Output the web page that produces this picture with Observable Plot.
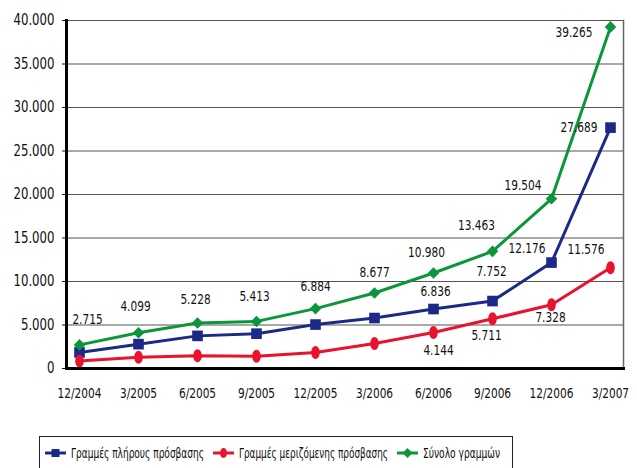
<!DOCTYPE html>
<html><head><meta charset="utf-8">
<script src="https://cdn.jsdelivr.net/npm/d3@7"></script>
<script src="https://cdn.jsdelivr.net/npm/@observablehq/plot@0.6"></script>
<style>
body{margin:0;background:#fff;font-family:"DejaVu Sans Condensed","Liberation Sans",sans-serif;}
#wrap{position:relative;width:637px;height:468px;overflow:hidden;}
#legend{position:absolute;left:39px;top:436px;width:474px;height:40px;border:1px solid #222;box-sizing:border-box;font-size:14px;color:#111;}
.item{position:absolute;top:8px;display:flex;align-items:center;white-space:nowrap;}
.item span{display:inline-block;transform-origin:left center;margin-left:5px;}
</style></head>
<body><div id="wrap"><div id="chart"></div><div id="legend"></div></div>
<script>
const periods = ["12/2004","3/2005","6/2005","9/2005","12/2005","3/2006","6/2006","9/2006","12/2006","3/2007"];
const fullAccess = [1850, 2800, 3750, 4000, 5050, 5800, 6836, 7752, 12176, 27689];
const partialAccess = [865, 1299, 1478, 1413, 1834, 2877, 4144, 5711, 7328, 11576];
const totalLines = [2715, 4099, 5228, 5413, 6884, 8677, 10980, 13463, 19504, 39265];
const seriesNames = ["Γραμμές πλήρους πρόσβασης", "Γραμμές μεριζόμενης πρόσβασης", "Σύνολο γραμμών"];
const yTicks = [0, 5000, 10000, 15000, 20000, 25000, 30000, 35000, 40000];

const colors = ["#1b2a88", "#e8142e", "#0b963a"];
const seriesValues = [fullAccess, partialAccess, totalLines];
const fmt = d3.formatLocale({decimal: ",", thousands: ".", grouping: [3], currency: ["", "€"]}).format(",d");

const ellipse = {draw(ctx, size) {
  const rx = 4.3, ry = 6.5, k = 0.5523;
  ctx.moveTo(0, -ry);
  ctx.bezierCurveTo(k*rx, -ry, rx, -k*ry, rx, 0);
  ctx.bezierCurveTo(rx, k*ry, k*rx, ry, 0, ry);
  ctx.bezierCurveTo(-k*rx, ry, -rx, k*ry, -rx, 0);
  ctx.bezierCurveTo(-rx, -k*ry, -k*rx, -ry, 0, -ry);
  ctx.closePath();
}};
const symbols = ["square", ellipse, "diamond2"];
const radii = [6, 6, 5.2];

const rows = [];
seriesValues.forEach((vals, s) => vals.forEach((v, i) => rows.push({period: periods[i], value: v, s})));

// label placement: [series, index, dx, dy, anchor]
const labelLayout = [
  [2,0,8,-26,"middle"],[2,1,-3,-26,"middle"],[2,2,-2,-24,"middle"],[2,3,-2,-25,"middle"],
  [2,4,0,-22,"middle"],[2,5,0,-21,"middle"],[2,6,-7,-21,"middle"],[2,7,-16,-26,"middle"],
  [2,8,-10,-13,"end"],[2,9,-18,5,"end"],
  [0,6,2,-18,"middle"],[0,7,-1,-30,"middle"],[0,8,-6,-14,"end"],[0,9,-13,0,"end"],
  [1,6,5,18,"middle"],[1,7,-6,17,"middle"],[1,8,-1,13,"middle"],[1,9,-6,-18,"end"]
];

const marks = [
  Plot.ruleY(yTicks, {stroke: "#555", strokeWidth: 1.2}),
  Plot.frame({anchor: "right", stroke: "#666", strokeWidth: 1.5}),
  Plot.axisY({ticks: yTicks, tickFormat: fmt, tickSize: 4, tickPadding: 8, fontSize: 15}),
  Plot.axisX({tickSize: 0, tickPadding: 19, fontSize: 14.5}),
];
[0,1,2].forEach(s => {
  const d = rows.filter(r => r.s === s);
  marks.push(Plot.line(d, {x: "period", y: "value", stroke: colors[s], strokeWidth: 3}));
  marks.push(Plot.dot(d, {x: "period", y: "value", fill: colors[s], stroke: "none", symbol: symbols[s], r: radii[s]}));
});
labelLayout.forEach(([s, i, dx, dy, anchor]) => {
  marks.push(Plot.text([{period: periods[i], value: seriesValues[s][i]}], {
    x: "period", y: "value", text: d => fmt(d.value), dx, dy, textAnchor: anchor,
    fontSize: 14.5, fill: "#111"
  }));
});
marks.push(Plot.frame({anchor: "left", stroke: "#000", strokeWidth: 3}));
marks.push(Plot.frame({anchor: "bottom", stroke: "#000", strokeWidth: 3}));

const chart = Plot.plot({
  width: 637, height: 410,
  marginLeft: 66, marginRight: 14, marginTop: 20, marginBottom: 42,
  style: {fontFamily: '"DejaVu Sans Condensed","Liberation Sans",sans-serif', color: "#111", background: "#fff"},
  x: {type: "point", domain: periods, padding: 0.17, label: null},
  y: {domain: [0, 40000], label: null},
  marks
});
document.getElementById("chart").appendChild(chart);

// narrow the text horizontally to mimic the condensed face of the original
d3.select(chart).selectAll("text").each(function() {
  const isY = this.closest('g[aria-label="y-axis tick label"]') !== null;
  const sx = isY ? 0.87 : 0.81;
  const t = this.getAttribute("transform") || "";
  this.setAttribute("transform", (t + ` scale(${sx},1)`).trim());
});

const legend = document.getElementById("legend");
const itemLeft = [5, 173, 357];
const textWidth = [133, 149, 77];
seriesNames.forEach((name, s) => {
  const item = document.createElement("div");
  item.className = "item";
  item.style.left = itemLeft[s] + "px";
  const svg = d3.create("svg").attr("width", 21).attr("height", 14);
  svg.append("line").attr("x1", 0).attr("x2", 21).attr("y1", 7).attr("y2", 7).attr("stroke", colors[s]).attr("stroke-width", 3);
  if (s === 0) svg.append("rect").attr("x", 6.5).attr("y", 3).attr("width", 8).attr("height", 8).attr("fill", colors[s]);
  if (s === 1) svg.append("ellipse").attr("cx", 10.5).attr("cy", 7).attr("rx", 3.5).attr("ry", 5).attr("fill", colors[s]);
  if (s === 2) svg.append("path").attr("d", "M10.5,2L15.5,7L10.5,12L5.5,7Z").attr("fill", colors[s]);
  item.appendChild(svg.node());
  const span = document.createElement("span");
  span.textContent = name;
  item.appendChild(span);
  legend.appendChild(item);
  const w = span.getBoundingClientRect().width;
  span.style.transform = `scaleX(${textWidth[s] / w})`;
});
</script></body></html>
